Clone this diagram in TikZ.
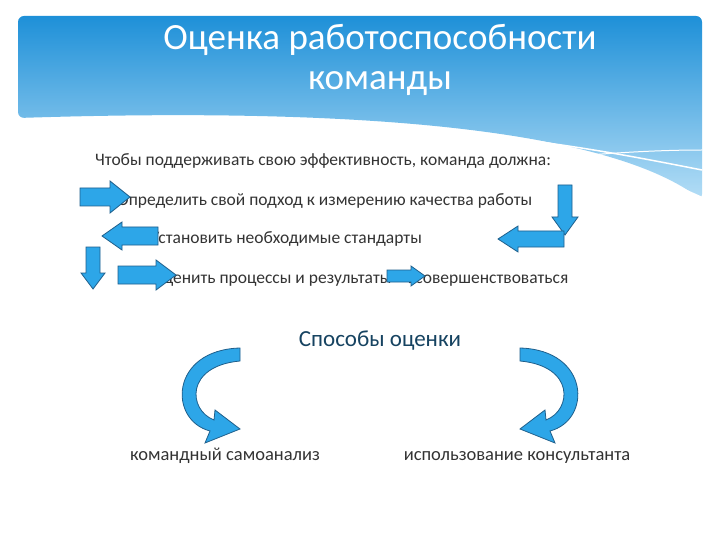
\documentclass[tikz,border=0pt]{standalone}
\usepackage{fontspec}
\setmainfont{Carlito}
\definecolor{afill}{HTML}{2DA6E8}
\definecolor{aline}{HTML}{1F5F8B}
\definecolor{txt}{HTML}{333333}
\definecolor{hdtop}{HTML}{1E90D8}
\definecolor{hdbot}{HTML}{B5DEF6}
% x, y, rotation, length, shaft half, head half, head length
\newcommand\blockarrow[7]{%
\begin{scope}[shift={(#1,#2)},rotate=#3]
\path[curv] (-#4/2,-#5) -- (#4/2-#7,-#5) -- (#4/2-#7,-#6) -- (#4/2,0) -- (#4/2-#7,#6) -- (#4/2-#7,#5) -- (-#4/2,#5) -- cycle;
\end{scope}}
\begin{document}
\begin{tikzpicture}[x=1pt,y=-1pt,
  body/.style={text=txt,font=\fontsize{17.5}{20}\selectfont,anchor=west,inner sep=0pt},
  curv/.style={fill=afill,draw=aline,line width=0.8pt}]
\useasboundingbox (0,0) rectangle (720,540);
\fill[white] (0,0) rectangle (720,540);
% header
\shade[top color=hdtop,bottom color=hdbot,rounded corners=6pt] (18,16) -- (702,16) -- (702,200) .. controls (620,140) and (420,105) .. (18,118) -- cycle;
\draw[white,line width=6pt] (18,130) .. controls (250,110) and (520,115) .. (702,200);
\draw[white,line width=1.5pt] (300,135) .. controls (450,120) and (600,150) .. (702,170);
\draw[white,line width=1pt] (420,175) .. controls (520,160) and (620,150) .. (702,150);
\node[text=white,font=\fontsize{37}{40}\selectfont,align=center] (title) at (380,60) {Оценка работоспособности\\команды};
% texts
\node[body] (t0) at (95,161) {Чтобы поддерживать свою эффективность, команда должна:};
\node[body] (t1) at (117,201) {Определить свой подход к измерению качества работы};
\node[body] (t2) at (150,239) {Установить необходимые стандарты};
\node[body] (t3) at (152,279) {Оценить процессы и результаты};
\node[body] (t4) at (407,279) {Усовершенствоваться};
% block arrows
\blockarrow{105}{197}{0}{50}{9}{16}{20}
\blockarrow{130}{236}{180}{56}{9}{14}{20}
\blockarrow{93}{268}{-90}{42}{7}{12}{16}
\blockarrow{147}{275}{0}{58}{9}{15}{20}
\blockarrow{406}{276}{0}{38}{6}{10}{14}
\blockarrow{565}{210}{-90}{50}{7}{13}{18}
\blockarrow{531}{239}{180}{66}{8}{13}{20}
% ways
\node[text=aline!70!black,font=\fontsize{23}{26}\selectfont] (ways) at (380,341) {Способы оценки};
\node[text=txt,font=\fontsize{18.5}{22}\selectfont,anchor=base] (w1) at (225,460) {командный самоанализ};
\node[text=txt,font=\fontsize{18.5}{22}\selectfont,anchor=base] (w2) at (517,460) {использование консультанта};
\path[curv] (240,348) .. controls (170,350) and (168,420) .. (210,431) -- (205,443) -- (240,429) -- (215,410) -- (214,420) .. controls (188,410) and (185,366) .. (240,361) -- cycle;
\begin{scope}[xshift=760pt,xscale=-1]
\path[curv] (240,348) .. controls (170,350) and (168,420) .. (210,431) -- (205,443) -- (240,429) -- (215,410) -- (214,420) .. controls (188,410) and (185,366) .. (240,361) -- cycle;
\end{scope}
\end{tikzpicture}
\end{document}
